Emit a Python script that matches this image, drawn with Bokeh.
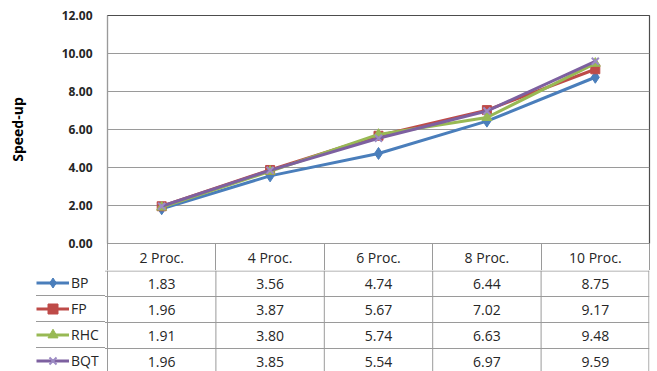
from bokeh.plotting import figure
from bokeh.layouts import column
from bokeh.models import Range1d, FixedTicker, NumeralTickFormatter, Legend, LegendItem
from bokeh.core.properties import value
from bokeh.embed import file_html
from bokeh.resources import INLINE

# Speed-up per number of processors
categories = ["2 Proc.", "4 Proc.", "6 Proc.", "8 Proc.", "10 Proc."]
series_names = ["BP", "FP", "RHC", "BQT"]
bp = [1.83, 3.56, 4.74, 6.44, 8.75]
fp = [1.96, 3.87, 5.67, 7.02, 9.17]
rhc = [1.91, 3.80, 5.74, 6.63, 9.48]
bqt = [1.96, 3.85, 5.54, 6.97, 9.59]
y_ticks = [0, 2, 4, 6, 8, 10, 12]

series_values = [bp, fp, rhc, bqt]
colors = ["#4A7EBB", "#BE4B48", "#98B954", "#7D60A0"]
markers = ["diamond", "square", "triangle", "x"]
marker_sizes = [12, 9, 10, 10]
marker_line = ["#4A7EBB", "#BE4B48", "#98B954", "#9C8BC4"]

FONT = value("Open Sans")
TEXT = "#262626"
GRID = "#9a9a9a"

n = len(categories)
xs = [i + 0.5 for i in range(n)]
LEFT, RIGHT = 107, 8
KEY_LEFT = 36
HEADER = 27
PX = (657 - LEFT - RIGHT) / n          # pixels per category column

# ---- chart area with the category header row underneath ----------------
p = figure(width=657, height=270, output_backend="svg", toolbar_location=None,
           x_range=Range1d(0, n), y_range=Range1d(0, 12),
           min_border_left=LEFT, min_border_right=RIGHT,
           min_border_top=15, min_border_bottom=HEADER)
p.outline_line_color = "#4d4d4d"
p.outline_line_width = 1.2
p.border_fill_color = "white"

p.xgrid.grid_line_color = None
p.ygrid.ticker = FixedTicker(ticks=y_ticks[1:-1])
p.ygrid.grid_line_color = GRID

ya = p.yaxis[0]
ya.ticker = FixedTicker(ticks=y_ticks)
ya.formatter = NumeralTickFormatter(format="0.00")
ya.axis_label = "Speed-up"
ya.axis_label_text_font = "Open Sans"
ya.axis_label_text_font_style = "bold"
ya.axis_label_text_font_size = "14px"
ya.axis_label_text_color = "black"
ya.axis_label_standoff = 32
ya.major_label_text_font = "Open Sans"
ya.major_label_text_font_style = "bold"
ya.major_label_text_font_size = "12px"
ya.major_label_text_color = TEXT
ya.major_label_standoff = 15
ya.major_tick_out = 0
ya.major_tick_in = 0
ya.minor_tick_out = 0
ya.minor_tick_in = 0
ya.axis_line_color = GRID

# header row: category names, with column dividers drawn as minor ticks
xa = p.xaxis[0]
xa.ticker = FixedTicker(ticks=xs, minor_ticks=list(range(n + 1)))
xa.major_label_overrides = {x: c for x, c in zip(xs, categories)}
xa.major_label_text_font = "Open Sans"
xa.major_label_text_font_size = "14px"
xa.major_label_text_color = TEXT
xa.major_label_standoff = -23
xa.major_tick_out = 0
xa.major_tick_in = 0
xa.minor_tick_in = 0
xa.minor_tick_out = HEADER
xa.minor_tick_line_color = GRID
xa.axis_line_color = GRID

for vals, c, m, ms, ml in zip(series_values, colors, markers, marker_sizes, marker_line):
    p.line(xs, vals, line_color=c, line_width=3)
    p.scatter(xs, vals, marker=m, size=ms, fill_color=c, line_color=ml,
              line_width=2 if m == "x" else 1)

# ---- data table ---------------------------------------------------------
ROW = 26
TABLE_H = 101
rows = len(series_names)
key_x = -(LEFT - KEY_LEFT) / PX       # left edge of the series-name column

t = figure(width=657, height=TABLE_H, output_backend="svg", toolbar_location=None,
           x_range=Range1d(key_x, n), y_range=Range1d(TABLE_H / ROW, 0),
           x_axis_location=None, y_axis_location=None,
           min_border_left=KEY_LEFT, min_border_right=RIGHT,
           min_border_top=0, min_border_bottom=0)
t.outline_line_color = None
t.grid.grid_line_color = None
t.border_fill_color = "white"

# table grid
eps_y = 0.5 / ROW
eps_x = 0.6 / PX
hy = [eps_y] + list(range(1, rows))
t.segment(x0=[key_x] * len(hy), x1=[n] * len(hy), y0=hy, y1=hy,
          line_color=GRID, line_width=1)
vx = [key_x + eps_x] + list(range(0, n)) + [n - eps_x]
t.segment(x0=vx, x1=vx, y0=[0] * len(vx), y1=[rows] * len(vx),
          line_color=GRID, line_width=1)

# value cells
cell_x, cell_y, cell_txt = [], [], []
for r, vals in enumerate(series_values):
    for i, v in enumerate(vals):
        cell_x.append(i + 0.5)
        cell_y.append(r + 0.5)
        cell_txt.append(f"{v:.2f}")
t.text(x=cell_x, y=cell_y, text=cell_txt, text_font=FONT, text_font_size="14px",
       text_color=TEXT, text_align="center", text_baseline="middle")

# series-name column: a legend whose gray background shows between white items
items = []
for name, vals, c, m, ms, ml in zip(series_names, series_values, colors, markers,
                                    marker_sizes, marker_line):
    lr = t.line(xs, vals, line_color=c, line_width=3, visible=False)
    sr = t.scatter(xs, vals, marker=m, size=ms, fill_color=c, line_color=ml,
                   line_width=2 if m == "x" else 1, visible=False)
    items.append(LegendItem(label=name, renderers=[lr, sr]))

legend_kw = dict(items=items, location="top_left", orientation="vertical",
                 padding=1, margin=0, spacing=1,
                 glyph_width=33, glyph_height=ROW - 1, label_height=ROW - 1,
                 label_width=LEFT - KEY_LEFT - 2 - 33 - 2, label_standoff=2,
                 border_line_color=None,
                 background_fill_color=GRID, background_fill_alpha=1.0,
                 label_text_font="Open Sans", label_text_font_size="14px",
                 label_text_color=TEXT)
if "item_background_policy" in Legend.properties():
    legend_kw.update(item_background_policy="every",
                     item_background_fill_color="white",
                     item_background_fill_alpha=1.0)
else:
    legend_kw.update(background_fill_color="white",
                     border_line_color=GRID, border_line_width=1)
legend = Legend(**legend_kw)
t.add_layout(legend)

layout = column(p, column(t, spacing=0), spacing=0)
open("out.html", "w").write(file_html(layout, INLINE))
